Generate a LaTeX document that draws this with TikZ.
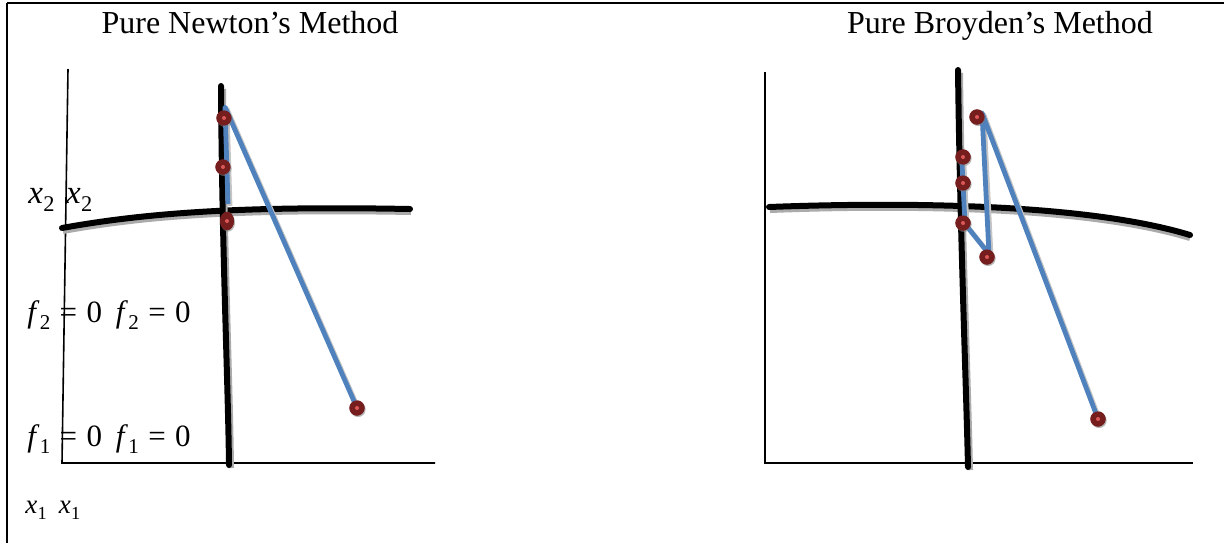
\documentclass[tikz,border=0pt]{standalone}
\usepackage{fontspec}
\setmainfont{Liberation Serif}
\usepackage{graphicx}
\usetikzlibrary{shapes.geometric,shadows}

\definecolor{iterblue}{RGB}{79,129,189}
\definecolor{dotdark}{RGB}{118,30,30}
\definecolor{dotlight}{RGB}{218,88,88}
\definecolor{shadegrey}{RGB}{150,150,150}

% italic variable with an upright subscript
\newcommand{\mvar}[2]{\textit{#1}\kern0.01em\raisebox{-0.25em}{\scalebox{0.68}{#2}}}
\newcommand{\eqsp}{\hspace{0.3em}}

\begin{document}
\begin{tikzpicture}[x=0.5pt,y=-0.5pt,
  frame/.style={line width=1.3pt},
  axis/.style={line width=0.8pt},
  zerocurve/.style={line width=3pt, line cap=round},
  zeroshade/.style={line width=3pt, shadegrey!80},
  iter/.style={line width=2.4pt, iterblue, line join=round},
  itershade/.style={line width=2.4pt, shadegrey!55, line join=round},
  dot/.style={circle, fill=dotdark, minimum size=7.6pt, inner sep=0pt,
    drop shadow={shadow xshift=0.5pt, shadow yshift=-0.7pt, opacity=0.35},
    path picture={\fill[dotlight] (path picture bounding box.center) circle (1pt);}},
  ovaldot/.style={dot, ellipse, minimum width=7pt, minimum height=9.2pt},
  heading/.style={font=\fontsize{16}{19}\selectfont, anchor=base, inner sep=0pt},
  lbl/.style={anchor=base west, inner sep=0pt}
]
\useasboundingbox (0,0) rectangle (1224,543);

% open frame: top and left edges
\draw[frame] (7,3) -- (1224,3);
\draw[frame] (7,3) -- (7,543);

% headings
\node[heading] (tN) at (250,33) {Pure Newton’s Method};
\node[heading] (tB) at (1000,33) {Pure Broyden’s Method};

% labels of the left panel
\node[lbl, font=\fontsize{16.5}{19}\selectfont] (lx2) at (28,203) {\mvar{x}{2}\hspace{0.35em}\mvar{x}{2}};
\node[lbl, font=\fontsize{15.5}{18}\selectfont] (lf2) at (27,322) {\mvar{f}{2}\eqsp=\eqsp0\hspace{0.45em}\mvar{f}{2}\eqsp=\eqsp0};
\node[lbl, font=\fontsize{15.5}{18}\selectfont] (lf1) at (27,446) {\mvar{f}{1}\eqsp=\eqsp0\hspace{0.45em}\mvar{f}{1}\eqsp=\eqsp0};
\node[lbl, font=\fontsize{13.5}{16}\selectfont] (lx1) at (25,513) {\mvar{x}{1}\hspace{0.45em}\mvar{x}{1}};

% ---------- left panel: Newton ----------
\draw[axis] (68,69) -- (62,463) -- (435,463);

% f2 = 0 (shadow, then curve)
\draw[zeroshade] (63,231) .. controls (150,215) and (250,209) .. (411,212);
\draw[zerocurve] (62,228) .. controls (150,212) and (250,206) .. (410,209);
% f1 = 0
\draw[zeroshade] (223,89) .. controls (224,250) and (230,380) .. (231,468);
\draw[zerocurve] (221,86) .. controls (222,250) and (228,380) .. (229,465);

% iterates
\node[dot] (n0) at (357,408) {};
\node[dot] (n1) at (224,118) {};
\node[dot] (n2) at (223,167) {};
\node[ovaldot] (n3) at (227,221) {};
\coordinate (n1c) at (225,107);
\coordinate (n3c) at (228,204);

\draw[itershade] ([shift={(2,2)}]n0.center) -- ([shift={(2,2)}]n1c) -- ([shift={(2,2)}]n3c);
\draw[iter] (n0.center) -- (n1c) -- (n3c);
\node[dot] at (n0) {};
\node[dot] at (n1) {};
\node[dot] at (n2) {};
\node[ovaldot] at (n3) {};

% ---------- right panel: Broyden ----------
\draw[axis] (765,72) -- (765,463) -- (1193,463);

% f2 = 0
\draw[zeroshade] (770,210) .. controls (900,205) and (1085,206) .. (1190,238);
\draw[zerocurve] (769,207) .. controls (900,202) and (1085,203) .. (1190,235);
% f1 = 0
\draw[zeroshade] (960,73) .. controls (962,230) and (968,380) .. (970,470);
\draw[zerocurve] (958,70) .. controls (960,230) and (966,380) .. (968,467);

% iterates
\node[dot] (b0) at (1098,419) {};
\node[dot] (b1) at (977,117) {};
\node[dot] (b2) at (987,257) {};
\node[dot] (b3) at (963,223) {};
\node[dot] (b4) at (963,183) {};
\node[dot] (b5) at (963,157) {};
\coordinate (b1c) at (982,113);
\coordinate (b2c) at (989,254);
\coordinate (b3c) at (965,224);
\coordinate (b5c) at (962,163);

\draw[itershade] ([shift={(2,2)}]b0.center) -- ([shift={(2,2)}]b1c) -- ([shift={(2,2)}]b2c) -- ([shift={(2,2)}]b3c) -- ([shift={(2,2)}]b5c);
\draw[iter] (b0.center) -- (b1c) -- (b2c) -- (b3c) -- (b5c);
\node[dot] at (b0) {};
\node[dot] at (b1) {};
\node[dot] at (b2) {};
\node[dot] at (b3) {};
\node[dot] at (b4) {};
\node[dot] at (b5) {};
\end{tikzpicture}
\end{document}
